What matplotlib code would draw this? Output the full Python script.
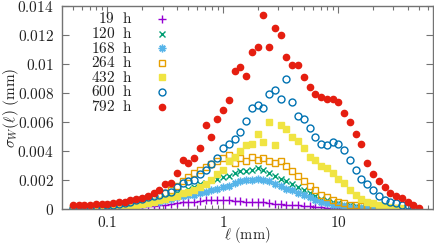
import numpy as np
import matplotlib
matplotlib.use("Agg")
import matplotlib.pyplot as plt
from matplotlib.ticker import FixedLocator, FuncFormatter, LogLocator, NullFormatter

plt.rcParams['mathtext.fontset'] = 'cm'
plt.rcParams['font.family'] = 'serif'
plt.rcParams['font.serif'] = ['DejaVu Serif']

nan = np.nan

# scale (mm)
ell = [0.0501, 0.0562, 0.0631, 0.0708, 0.0794, 0.0891, 0.1, 0.112, 0.126, 0.141,
       0.158, 0.178, 0.2, 0.224, 0.251, 0.282, 0.316, 0.355, 0.398, 0.447,
       0.501, 0.562, 0.631, 0.708, 0.794, 0.891, 1.0, 1.12, 1.26, 1.41,
       1.58, 1.78, 2.0, 2.24, 2.51, 2.82, 3.16, 3.55, 3.98, 4.47,
       5.01, 5.62, 6.31, 7.08, 7.94, 8.91, 10.0, 11.2, 12.6, 14.1,
       15.8, 17.8, 20.0, 22.4, 25.1, 28.2, 31.6, 35.5, 39.8, 44.7,
       50.1]

labels = ['19 h', '120 h', '168 h', '264 h', '432 h', '600 h', '792 h']

w_19 = [0.00002, 0.00002, 0.00003, 0.00003, 0.00004, 0.00005, 0.00006, 0.00007, 0.00008, 0.0001,
        0.00012, 0.00014, 0.00016, 0.00018, 0.0002, 0.00025, 0.0003, 0.00035, 0.0004, 0.00045,
        0.0005, 0.0005, 0.00055, 0.0006, 0.0006, 0.00065, 0.0006, 0.0006, 0.00055, 0.00055,
        0.0005, 0.0005, 0.00045, 0.00045, 0.0004, 0.00038, 0.00035, 0.0003, 0.00028, 0.00025,
        0.0002, 0.00018, 0.00015, 0.00012, 0.0001, 0.00008, 0.00006, 0.00005, 0.00003, nan,
        nan, nan, nan, nan, nan, nan, nan, nan, nan, nan,
        nan]

w_120 = [0.00003, 0.00004, 0.00005, 0.00006, 0.00008, 0.0001, 0.00012, 0.00015, 0.0002, 0.00025,
         0.0003, 0.00035, 0.0004, 0.0005, 0.0006, 0.0007, 0.0008, 0.0009, 0.0011, 0.0012,
         0.0014, 0.0015, 0.0017, 0.0018, 0.002, 0.0021, 0.0022, 0.0023, 0.0025, 0.0026,
         0.0026, 0.0027, 0.0028, 0.0027, 0.0025, 0.0023, 0.0021, 0.0019, 0.0017, 0.0015,
         0.0013, 0.0011, 0.0009, 0.0007, 0.0006, 0.0005, 0.0004, 0.0003, 0.00025, 0.0002,
         0.00015, 0.0001, 0.0001, 0.00008, 0.00005, 0.00004, nan, nan, nan, nan,
         nan]

w_168 = [0.00002, 0.00003, 0.00004, 0.00005, 0.00006, 0.00008, 0.0001, 0.00012, 0.00015, 0.0002,
         0.00025, 0.0003, 0.00035, 0.0004, 0.00045, 0.0005, 0.0006, 0.0007, 0.0008, 0.0009,
         0.00095, 0.001, 0.0011, 0.0012, 0.0013, 0.0014, 0.0015, 0.0016, 0.0018, 0.0019,
         0.002, 0.002, 0.0021, 0.002, 0.0019, 0.0017, 0.0016, 0.0014, 0.0013, 0.0011,
         0.001, 0.0008, 0.0006, 0.0005, 0.0004, 0.0003, 0.00025, 0.0002, 0.00015, 0.0001,
         0.0001, 0.00008, 0.00005, 0.00004, nan, nan, nan, nan, nan, nan,
         nan]

w_264 = [0.00005, 0.00005, 0.00006, 0.00008, 0.0001, 0.00012, 0.00015, 0.0002, 0.00025, 0.0003,
         0.00035, 0.0004, 0.0005, 0.0006, 0.0007, 0.0009, 0.0011, 0.0013, 0.0016, 0.0019,
         0.0022, 0.0025, 0.0027, 0.0029, 0.0031, 0.0033, 0.0035, 0.0037, 0.0032, 0.0035,
         0.0033, 0.0036, 0.0034, 0.0035, 0.0033, 0.0032, 0.0033, 0.003, 0.0026, 0.0023,
         0.0019, 0.0016, 0.0013, 0.001, 0.0008, 0.0006, 0.0005, 0.0004, 0.0003, 0.00025,
         0.0002, 0.00015, 0.0001, 0.0001, 0.00008, 0.00005, 0.00004, nan, nan, nan,
         nan]

w_432 = [0.00002, 0.00003, 0.00004, 0.00005, 0.00007, 0.00008, 0.0001, 0.00012, 0.00015, 0.0002,
         0.00025, 0.0003, 0.00035, 0.0004, 0.0005, 0.0006, 0.0007, 0.0008, 0.0009, 0.0011,
         0.0012, 0.0013, 0.0015, 0.0017, 0.002, 0.0024, 0.0027, 0.0033, 0.0036, 0.004,
         0.0044, 0.0045, 0.0052, 0.0046, 0.006, 0.0044, 0.0058, 0.0055, 0.005, 0.0047,
         0.0042, 0.0036, 0.0034, 0.003, 0.0028, 0.0025, 0.0021, 0.0018, 0.0013, 0.001,
         0.0007, 0.0005, 0.0004, 0.0003, 0.0002, 0.00015, 0.0001, 0.00008, nan, nan,
         nan]

w_600 = [0.0001, 0.0001, 0.00012, 0.00015, 0.0002, 0.0002, 0.00025, 0.0003, 0.00035, 0.0004,
         0.0005, 0.0006, 0.0007, 0.0008, 0.0009, 0.001, 0.0011, 0.0012, 0.0015, 0.0018,
         0.0019, 0.002, 0.0024, 0.0027, 0.0031, 0.0035, 0.0042, 0.0045, 0.0048, 0.0053,
         0.0061, 0.007, 0.0072, 0.007, 0.0079, 0.0082, 0.0076, 0.009, 0.0074, 0.0064,
         0.0062, 0.0056, 0.005, 0.0045, 0.0044, 0.0046, 0.0045, 0.0041, 0.0034, 0.0027,
         0.0021, 0.0017, 0.0013, 0.0009, 0.0006, 0.0005, 0.0004, 0.0003, 0.0003, 0.0002,
         nan]

w_792 = [0.00025, 0.00025, 0.0003, 0.0003, 0.00032, 0.00035, 0.00035, 0.0004, 0.00045, 0.0005,
         0.0006, 0.0007, 0.00075, 0.0009, 0.0011, 0.0013, 0.0017, 0.0018, 0.0025, 0.0034,
         0.0032, 0.0035, 0.0042, 0.0058, 0.005, 0.0062, 0.0068, 0.0075, 0.0095, 0.0098,
         0.0092, 0.0108, 0.0112, 0.0134, 0.0112, 0.0125, 0.012, 0.0105, 0.0099, 0.0099,
         0.0091, 0.0084, 0.0079, 0.0077, 0.0076, 0.0076, 0.0074, 0.0066, 0.006, 0.0052,
         0.0045, 0.0032, 0.0024, 0.0019, 0.0015, 0.0011, 0.0009, 0.00075, 0.0005, 0.0003,
         0.0001]

series = [w_19, w_120, w_168, w_264, w_432, w_600, w_792]
styles = [
    dict(marker='+', color='#9400d3', mfc='#9400d3', ms=5.5),
    dict(marker='x', color='#009e73', mfc='#009e73', ms=4.5),
    dict(marker=(8, 2, 0), color='#56b4e9', mfc='#56b4e9', ms=5.5),
    dict(marker='s', color='#e69f00', mfc='none', ms=5),
    dict(marker='s', color='#f0e442', mfc='#f0e442', ms=4.5),
    dict(marker='o', color='#0072b2', mfc='none', ms=5),
    dict(marker='o', color='#e51e10', mfc='#e51e10', ms=4.5),
]

fig = plt.figure(figsize=(4.35, 2.44), dpi=100)
ax = fig.add_axes([0.1425, 0.1434, 0.853, 0.832])

for vals, st in zip(series, styles):
    ax.plot(ell, vals, linestyle='none', marker=st['marker'], color=st['color'],
            mfc=st['mfc'], mec=st['color'], ms=st['ms'], mew=1.0)

ax.set_xscale('log')
ax.set_xlim(0.0404, 66)
ax.set_ylim(0, 0.014)

gray = '0.45'
for s in ax.spines.values():
    s.set_color(gray)
    s.set_linewidth(1.0)

ax.yaxis.set_major_locator(FixedLocator([0, 0.002, 0.004, 0.006, 0.008, 0.01, 0.012, 0.014]))
ax.yaxis.set_major_formatter(FuncFormatter(lambda v, p: r'$\mathrm{%s}$' % ('%g' % v)))
ax.xaxis.set_major_locator(FixedLocator([0.1, 1, 10]))
ax.xaxis.set_major_formatter(FuncFormatter(lambda v, p: r'$\mathrm{%s}$' % ('%g' % v)))
ax.xaxis.set_minor_locator(LogLocator(base=10, subs=np.arange(2, 10)))
ax.xaxis.set_minor_formatter(NullFormatter())

ax.tick_params(which='both', direction='in', top=True, right=True, color=gray,
               labelsize=11, labelcolor='#222222')
ax.tick_params(which='major', length=5, width=0.8, pad=6)
ax.tick_params(axis='x', which='major', pad=4)
ax.tick_params(which='minor', length=3, width=0.8)

ax.set_xlabel(r'$\ell\ (\mathrm{mm})$', fontsize=10.5, color='#222222')
ax.set_ylabel(r'$\sigma_W(\ell)\ (\mathrm{mm})$', fontsize=11, color='#222222')
ax.xaxis.set_label_coords(0.5, -0.13)
ax.xaxis.label.set_va('center')
ax.yaxis.set_label_coords(-0.138, 0.5)
ax.yaxis.label.set_va('center')

# legend, gnuplot style: right-aligned text, marker to the right
y0 = 0.936
dy = 0.0719
for i, (lab, st) in enumerate(zip(labels, styles)):
    y = y0 - i * dy
    ax.text(0.191, y, r'$\mathrm{%s}$' % lab.replace(' ', r'\ \ '), transform=ax.transAxes,
            ha='right', va='center', fontsize=11, color='#222222')
    ax.plot([0.270], [y], transform=ax.transAxes, linestyle='none', marker=st['marker'],
            color=st['color'], mfc=st['mfc'], mec=st['color'], ms=st['ms'], mew=1.0,
            clip_on=False)

fig.savefig('out.png', dpi=100)
